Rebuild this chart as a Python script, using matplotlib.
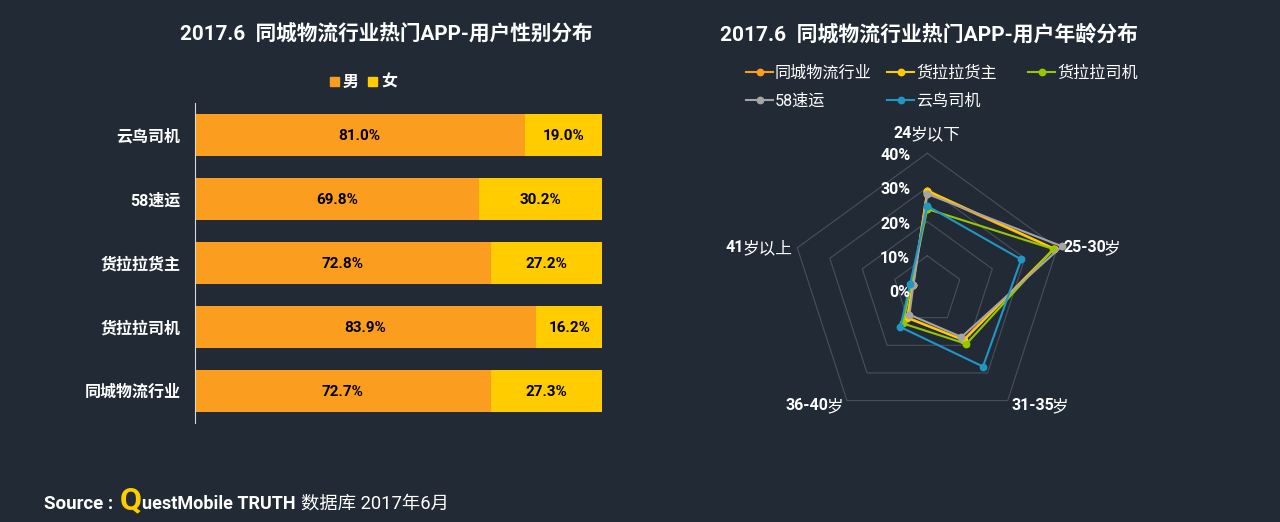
import re
import numpy as np
import matplotlib
matplotlib.use("Agg")
import matplotlib.pyplot as plt
from matplotlib.lines import Line2D
from matplotlib.patches import Rectangle

# 性别分布
apps = ["云鸟司机", "58速运", "货拉拉货主", "货拉拉司机", "同城物流行业"]
male = [81.0, 69.8, 72.8, 83.9, 72.7]
female = [19.0, 30.2, 27.2, 16.2, 27.3]

# 年龄分布
ages = ["24岁以下", "25-30岁", "31-35岁", "36-40岁", "41岁以上"]
radar_names = ["同城物流行业", "货拉拉货主", "货拉拉司机", "58速运", "云鸟司机"]
all_industry = [28.6, 38.9, 18.0, 9.9, 4.5]
huolala_owner = [29.1, 39.1, 18.2, 10.1, 4.4]
huolala_driver = [23.7, 38.8, 19.5, 12.1, 5.0]
speed58 = [28.1, 41.4, 17.0, 8.9, 4.3]
yunniao = [24.6, 28.9, 27.7, 13.4, 5.3]
radar_rings = [10, 20, 30, 40]
radar_ticks = [0, 10, 20, 30, 40]

BG = "#222A36"
ORANGE = "#FB9D1F"
YELLOW = "#FFCC00"
radar_colors = [ORANGE, YELLOW, "#96C800", "#A5A5A5", "#2296C3"]
radar_values = [all_industry, huolala_owner, huolala_driver, speed58, yunniao]

W, H = 1280, 522
LATIN_CJK = ["Roboto", "Noto Sans CJK SC", "DejaVu Sans"]
plt.rcParams["font.family"] = LATIN_CJK

fig = plt.figure(figsize=(W / 100, H / 100), dpi=100, facecolor=BG)


def px_axes(x0, y0, x1, y1, **kw):
    return fig.add_axes([x0 / W, 1 - y1 / H, (x1 - x0) / W, (y1 - y0) / H], **kw)


def px_text(x, y, s, **kw):
    kw.setdefault("color", "white")
    kw.setdefault("va", "center")
    return fig.text(x / W, 1 - y / H, s, **kw)


# 左图 堆积条形图
ax = px_axes(194.5, 103, 602, 423)
ax.set_facecolor(BG)
pos = np.arange(len(apps))
ax.barh(pos, male, height=0.67, color=ORANGE)
ax.barh(pos, female, left=male, height=0.67, color=YELLOW)
for i in pos:
    ax.text(male[i] / 2, i + 0.02, "%.1f%%" % male[i], ha="center", va="center",
            color="black", fontsize=11, fontweight="bold")
    ax.text(male[i] + (100 - male[i]) / 2, i + 0.02, "%.1f%%" % female[i], ha="center", va="center",
            color="black", fontsize=11, fontweight="bold")
ax.set_xlim(0, 100)
ax.set_ylim(len(apps) - 0.5, -0.5)
ax.set_yticks(pos)
ax.set_yticklabels(apps, color="white", fontsize=11.5, fontweight="bold")
ax.tick_params(axis="y", length=0, pad=10)
ax.set_xticks([])
for side in ["top", "right", "bottom"]:
    ax.spines[side].set_visible(False)
ax.spines["left"].set_color("#D8D8D8")
ax.spines["left"].set_linewidth(0.8)

px_text(386, 34, "2017.6  同城物流行业热门APP-用户性别分布", ha="center", fontsize=14.9, fontweight="bold")
px_text(929.5, 34, "2017.6  同城物流行业热门APP-用户年龄分布", ha="center", fontsize=15, fontweight="bold")

# 左图图例
for x, label, c in [(330, "男", ORANGE), (368, "女", YELLOW)]:
    fig.add_artist(Rectangle((x / W, 1 - 86 / H), 9 / W, 9 / H, transform=fig.transFigure, color=c))
    px_text(x + 13, 82, label, fontsize=11.5, fontweight="bold")

# 右图 雷达图
radar = px_axes(927.3 - 153.8, 290 - 153.8, 927.3 + 153.8, 290 + 153.8, projection="polar")
radar.set_theta_zero_location("N")
radar.set_theta_direction(-1)
radar.set_ylim(0, 45)
radar.set_axis_off()
theta = np.linspace(0, 2 * np.pi, len(ages), endpoint=False)
closed = np.append(theta, theta[0])
for r in radar_rings:
    radar.plot(closed, [r] * len(closed), color="#4A505B", lw=0.8, clip_on=False, zorder=1)
for vals, c in zip(radar_values, radar_colors):
    radar.plot(closed, vals + vals[:1], color=c, lw=1.5, marker="o", ms=4.6,
               clip_on=False, zorder=3)
for t in radar_ticks:
    radar.annotate("%d%%" % t, xy=(0, t), xytext=(-17, -2.5), textcoords="offset pixels",
                   ha="right", va="center", color="white", fontsize=11.5, fontweight="bold",
                   annotation_clip=False, zorder=4)

# 年龄标签 数字粗体 中文常规
renderer = fig.canvas.get_renderer()
age_label_pos = [(894, 134), (1063, 248), (1011, 406), (786, 406), (726, 248)]
for label, (x, y) in zip(ages, age_label_pos):
    head, tail = re.match(r"([\d-]+)(.*)", label).groups()
    t = px_text(x, y, head, fontsize=11.5, fontweight="bold")
    px_text(t.get_window_extent(renderer).x1 - 2, y, tail, fontsize=12)

# 右图图例
legend_pos = [(746, 72), (887, 72), (1028, 72), (746, 100), (887, 100)]
for name, c, (x, y) in zip(radar_names, radar_colors, legend_pos):
    fig.add_artist(Line2D([x / W, (x + 27) / W], [1 - y / H, 1 - y / H], transform=fig.transFigure,
                          color=c, lw=1.5))
    fig.add_artist(Line2D([(x + 13.5) / W], [1 - y / H], transform=fig.transFigure,
                          color=c, marker="o", ms=4.6))
    px_text(x + 29, y + 1, name, fontsize=11.6)

# 数据来源
px_text(44, 504, "Source :", fontsize=13.5, fontweight="bold")
px_text(120, 500, "Q", color=YELLOW, fontsize=23, fontweight="bold")
px_text(142, 504, "uestMobile TRUTH", fontsize=13, fontweight="bold")
px_text(301, 504, "数据库 2017年6月", fontsize=13.2)

fig.savefig("out.png", dpi=100, facecolor=BG)
